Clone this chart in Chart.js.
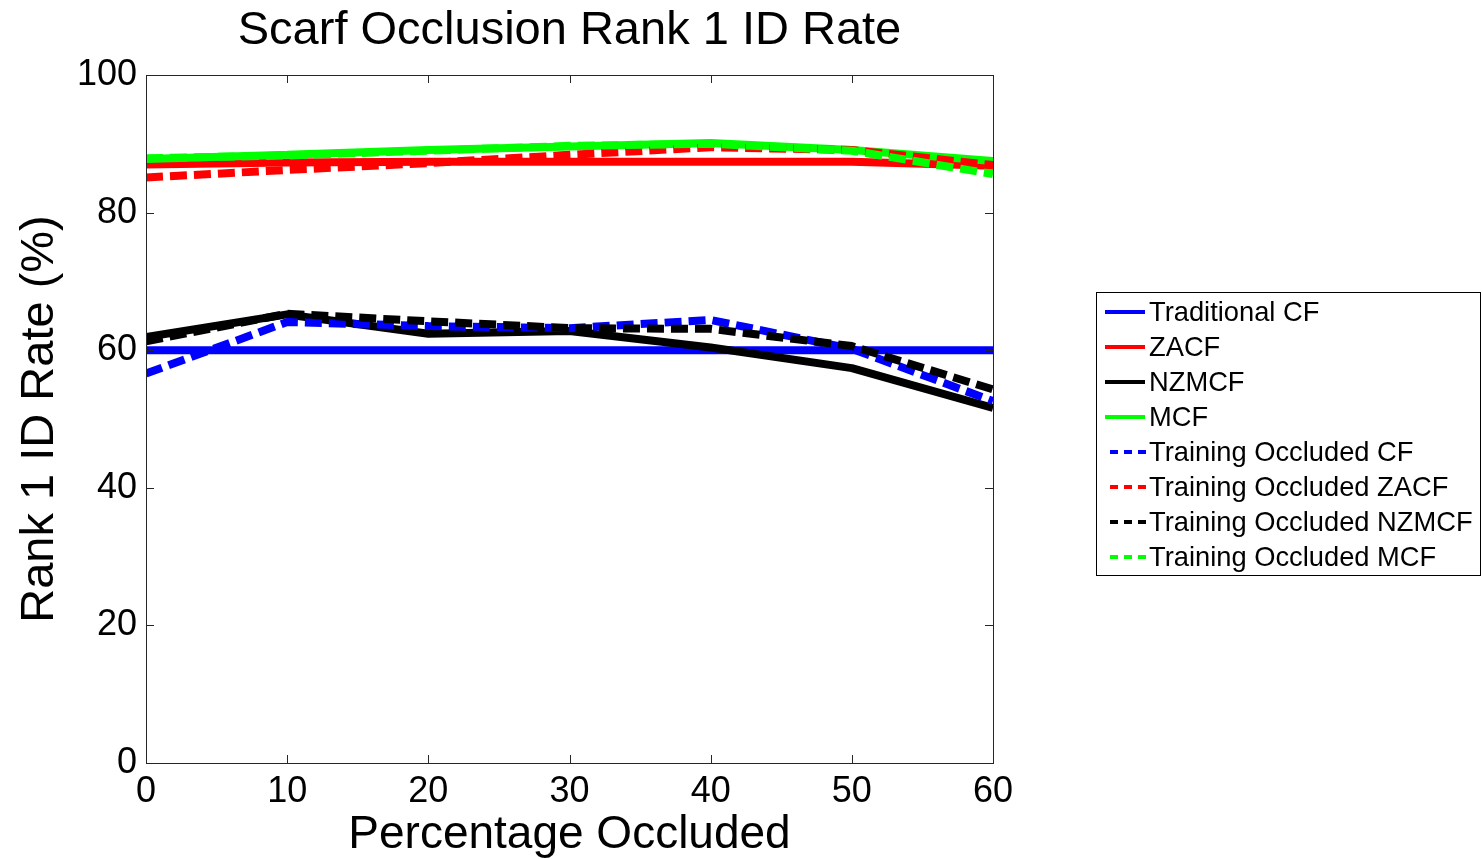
<!DOCTYPE html>
<html>
<head>
<meta charset="utf-8">
<script src="https://cdn.jsdelivr.net/npm/chart.js@4.4.1/dist/chart.umd.min.js"></script>
<style>
  html, body { margin: 0; padding: 0; background: #fff; }
  #wrap { width: 1483px; height: 859px; }
</style>
</head>
<body>
<div id="wrap"><canvas id="chart" width="1483" height="859"></canvas></div>
<script>
// scarf occlusion rank-1 id rate

const occluded = [0, 10, 20, 30, 40, 50, 60];
const yTicks = [0, 20, 40, 60, 80, 100];

const traditionalCF = [60, 60, 60, 60, 60, 60, 60];
const zacf = [87, 87.3, 87.4, 87.4, 87.4, 87.4, 86.8];
const nzmcf = [61.9, 65.2, 62.4, 62.8, 60.4, 57.4, 51.6];
const mcf = [87.8, 88.4, 89.1, 89.6, 90.1, 89.1, 87.5];
const trainCF = [56.6, 64.1, 63.5, 63.2, 64.4, 60.2, 52.6];
const trainZACF = [85.1, 86.2, 87.2, 88.4, 89.5, 89.1, 86.9];
const trainNZMCF = [61.3, 65.3, 64.2, 63.2, 63.1, 60.6, 54.3];
const trainMCF = [87.9, 88.3, 89, 89.7, 90, 89, 85.6];

const seriesNames = [
    'Traditional CF', 'ZACF', 'NZMCF', 'MCF',
    'Training Occluded CF', 'Training Occluded ZACF',
    'Training Occluded NZMCF', 'Training Occluded MCF'
];
const seriesValues = [traditionalCF, zacf, nzmcf, mcf, trainCF, trainZACF, trainNZMCF, trainMCF];
const seriesColors = ['#0000ff', '#ff0000', '#000000', '#00ff00', '#0000ff', '#ff0000', '#000000', '#00ff00'];

const FONT = 'Liberation Sans, Arial, Helvetica, sans-serif';

const datasets = seriesValues.map((vals, i) => ({
    label: seriesNames[i],
    data: vals.map((v, j) => ({ x: occluded[j], y: v })),
    borderColor: seriesColors[i],
    backgroundColor: seriesColors[i],
    borderWidth: 8,
    borderDash: i >= 4 ? [17, 7] : [],
    borderCapStyle: 'butt',
    borderJoinStyle: 'bevel',
    pointRadius: 0,
    tension: 0,
    fill: false,
    order: 7 - i   // later series drawn on top, like matlab
}));

// box, inward ticks, title and legend
const decorPlugin = {
    id: 'decor',
    afterDraw(chart) {
        const ctx = chart.ctx;
        const a = chart.chartArea;
        const xs = chart.scales.x;
        const ys = chart.scales.y;
        ctx.save();
        ctx.strokeStyle = '#262626';
        ctx.lineWidth = 1;
        ctx.strokeRect(Math.round(a.left) + 0.5, Math.round(a.top) + 0.5,
            Math.round(a.right - a.left), Math.round(a.bottom - a.top));
        const tl = 8;
        ctx.beginPath();
        occluded.forEach(v => {
            const px = Math.round(xs.getPixelForValue(v)) + 0.5;
            ctx.moveTo(px, a.bottom); ctx.lineTo(px, a.bottom - tl);
            ctx.moveTo(px, a.top); ctx.lineTo(px, a.top + tl);
        });
        yTicks.forEach(v => {
            const py = Math.round(ys.getPixelForValue(v)) + 0.5;
            ctx.moveTo(a.left, py); ctx.lineTo(a.left + tl, py);
            ctx.moveTo(a.right, py); ctx.lineTo(a.right - tl, py);
        });
        ctx.stroke();

        // title
        ctx.fillStyle = '#000';
        ctx.font = '47px ' + FONT;
        ctx.textAlign = 'center';
        ctx.textBaseline = 'middle';
        ctx.fillText('Scarf Occlusion Rank 1 ID Rate', (a.left + a.right) / 2, 31);

        // legend
        const lx = 1096.5, ly = 292.5, lw = 384, lh = 283;
        ctx.fillStyle = '#fff';
        ctx.fillRect(lx, ly, lw, lh);
        ctx.strokeStyle = '#000';
        ctx.lineWidth = 1;
        ctx.strokeRect(lx, ly, lw, lh);
        ctx.font = '27.3px ' + FONT;
        ctx.textAlign = 'left';
        chart.data.datasets.forEach((ds, i) => {
            const y = 312 + i * 35;
            ctx.strokeStyle = ds.borderColor;
            ctx.lineWidth = 4;
            ctx.lineCap = 'butt';
            ctx.beginPath();
            if (ds.borderDash.length) {
                ctx.setLineDash([8, 6]);
                ctx.moveTo(1110, y); ctx.lineTo(1146, y);
            } else {
                ctx.setLineDash([]);
                ctx.moveTo(1105, y); ctx.lineTo(1145, y);
            }
            ctx.stroke();
            ctx.setLineDash([]);
            ctx.fillStyle = '#000';
            ctx.fillText(ds.label, 1149, y + 1);
        });
        ctx.restore();
    }
};

new Chart(document.getElementById('chart'), {
    type: 'line',
    data: { datasets: datasets },
    options: {
        responsive: false,
        animation: false,
        layout: { padding: { left: 0, top: 75, right: 490, bottom: 0 } },
        plugins: {
            legend: { display: false },
            tooltip: { enabled: false },
            title: { display: false }
        },
        scales: {
            x: {
                type: 'linear',
                min: 0,
                max: 60,
                grid: { display: false, drawTicks: false },
                border: { display: false },
                ticks: {
                    stepSize: 10,
                    padding: 7,
                    color: '#000',
                    font: { family: FONT, size: 36 },
                    maxRotation: 0
                },
                title: {
                    display: true,
                    text: 'Percentage Occluded',
                    color: '#000',
                    font: { family: FONT, size: 46, lineHeight: 1 },
                    padding: { top: 0, bottom: 1 }
                },
                afterFit(scale) { scale.height = 96; }
            },
            y: {
                min: 0,
                max: 100,
                grid: { display: false, drawTicks: false },
                border: { display: false },
                ticks: {
                    stepSize: 20,
                    padding: 9,
                    color: '#000',
                    font: { family: FONT, size: 36 }
                },
                title: {
                    display: true,
                    text: 'Rank 1 ID Rate (%)',
                    color: '#000',
                    font: { family: FONT, size: 47, lineHeight: 1 },
                    padding: { top: 17, bottom: 0 }
                },
                afterFit(scale) { scale.width = 146; }
            }
        }
    },
    plugins: [decorPlugin]
});
</script>
</body>
</html>
